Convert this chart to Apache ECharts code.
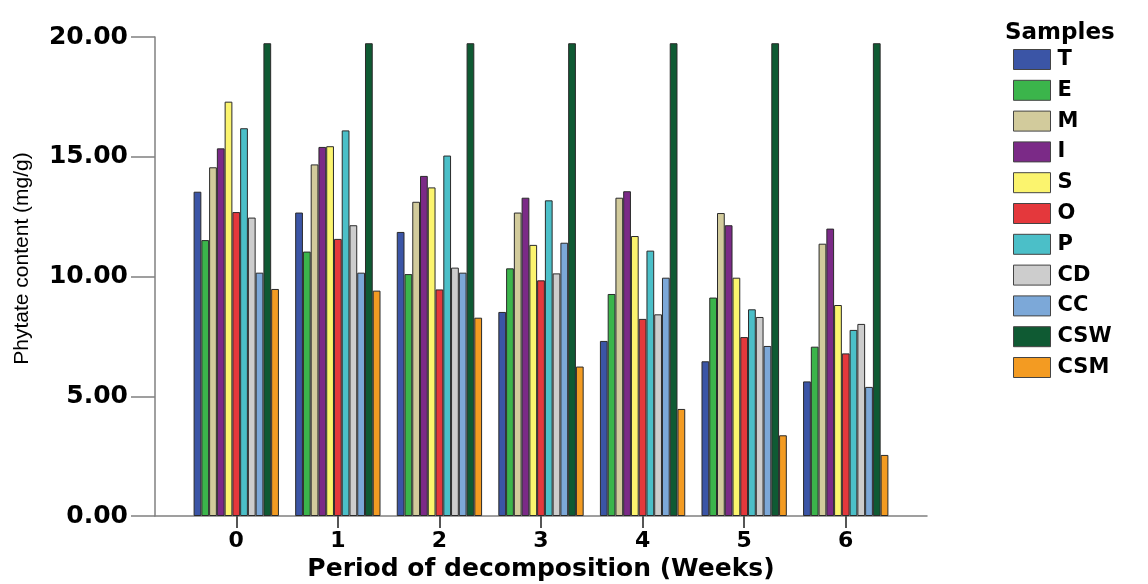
<!DOCTYPE html>
<html>
<head>
<meta charset="utf-8">
<script src="https://cdn.jsdelivr.net/npm/echarts@6/dist/echarts.min.js"></script>
<style>html,body{margin:0;padding:0;background:#fff;}#c{width:1148px;height:584px;}</style>
</head>
<body>
<div id="c"></div>
<script>
const weeks = [0, 1, 2, 3, 4, 5, 6];
const sampleNames = ['T', 'E', 'M', 'I', 'S', 'O', 'P', 'CD', 'CC', 'CSW', 'CSM'];
const T   = [13.54, 12.67, 11.86, 8.52, 7.31, 6.46, 5.62];
const E   = [11.52, 11.04, 10.10, 10.34, 9.27, 9.12, 7.07];
const M   = [14.56, 14.68, 13.12, 12.67, 13.29, 12.65, 11.37];
const I   = [15.35, 15.41, 14.20, 13.29, 13.56, 12.14, 12.00];
const S   = [17.30, 15.44, 13.72, 11.32, 11.69, 9.95, 8.81];
const O   = [12.69, 11.57, 9.46, 9.84, 8.23, 7.47, 6.79];
const P   = [16.19, 16.10, 15.05, 13.18, 11.08, 8.63, 7.77];
const CD  = [12.46, 12.14, 10.37, 10.13, 8.42, 8.31, 8.02];
const CC  = [10.16, 10.16, 10.16, 11.41, 9.95, 7.10, 5.39];
const CSW = [19.74, 19.74, 19.74, 19.74, 19.74, 19.74, 19.74];
const CSM = [9.48, 9.41, 8.28, 6.24, 4.47, 3.37, 2.55];
const seriesValues = [T, E, M, I, S, O, P, CD, CC, CSW, CSM];
const colors = ['#3b55a6', '#3bb54b', '#d2cb9c', '#7b2a87', '#fbf46e', '#e4383c', '#4bbfc8', '#cdcdcd', '#7ca8d8', '#0f5a33', '#f39b22'];

const chart = echarts.init(document.getElementById('c'), null, {renderer: 'canvas'});
const boldFont = 'DejaVu Sans';
chart.setOption({
  animation: false,
  backgroundColor: '#fff',
  title: {
    text: 'Samples', left: 1000, top: 17,
    textStyle: {fontFamily: boldFont, fontWeight: 'bold', fontSize: 23, color: '#000'}
  },
  legend: {
    orient: 'vertical', left: 1013, top: 49, padding: 0,
    itemWidth: 37, itemHeight: 20, itemGap: 9.8,
    icon: 'rect',
    data: sampleNames,
    textStyle: {fontFamily: boldFont, fontWeight: 'bold', fontSize: 21, color: '#000', padding: [0, 0, 0, 2]},
    itemStyle: {borderColor: '#444', borderWidth: 1}
  },
  grid: {left: 155, right: 221, top: 37, bottom: 68, containLabel: false, outerBoundsMode: 'none'},
  xAxis: {
    type: 'value', min: -0.8, max: 6.8,
    name: 'Period of decomposition (Weeks)',
    nameLocation: 'middle', nameGap: 40,
    nameTextStyle: {fontFamily: boldFont, fontWeight: 'bold', fontSize: 25, color: '#000'},
    axisLine: {show: true, onZero: false, lineStyle: {color: '#808080', width: 1.5}},
    axisTick: {show: true, customValues: weeks, length: 12, lineStyle: {color: '#555', width: 2}},
    axisLabel: {customValues: weeks, margin: 14, fontFamily: boldFont, fontWeight: 'bold', fontSize: 22, color: '#000'},
    splitLine: {show: false}
  },
  yAxis: {
    type: 'value', min: 0, max: 20, interval: 5,
    name: 'Phytate content (mg/g)',
    nameLocation: 'middle', nameGap: 122,
    nameTextStyle: {fontFamily: 'Liberation Sans', fontSize: 21, color: '#000', padding: [0, 0, 0, 36]},
    axisLine: {show: true, onZero: false, lineStyle: {color: '#808080', width: 1.5}},
    axisTick: {show: true, length: 24, lineStyle: {color: '#808080', width: 1.5}},
    axisLabel: {
      margin: 27, fontFamily: boldFont, fontWeight: 'bold', fontSize: 25, color: '#000',
      formatter: v => v.toFixed(2)
    },
    splitLine: {show: false}
  },
  series: sampleNames.map((name, k) => ({
    name: name,
    type: 'bar',
    barGap: '0%',
    barCategoryGap: '16%',
    itemStyle: {color: colors[k], borderColor: '#2a2a2a', borderWidth: 1},
    data: weeks.map((w, i) => [w, seriesValues[k][i]])
  }))
});
</script>
</body>
</html>
